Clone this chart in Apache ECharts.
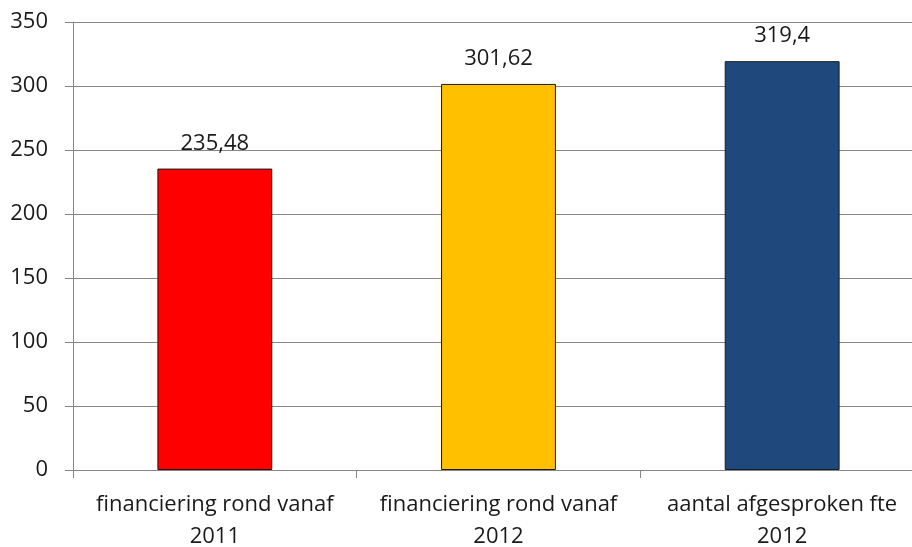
<!DOCTYPE html>
<html><head><meta charset="utf-8">
<script src="https://cdn.jsdelivr.net/npm/echarts@6/dist/echarts.min.js"></script>
<style>html,body{margin:0;padding:0;background:#fff;overflow:hidden}#c{width:912px;height:547px}</style>
</head><body><div id="c"></div>
<script>
const categories = ['financiering rond vanaf\n2011', 'financiering rond vanaf\n2012', 'aantal afgesproken fte\n2012'];
const values = [235.48, 301.62, 319.4];
const barColors = ['#FF0000', '#FFC000', '#1F497D'];
const yTicks = { min: 0, max: 350, interval: 50 };

const FONT = 'Open Sans';
const chart = echarts.init(document.getElementById('c'), null, { renderer: 'canvas' });
chart.setOption({
  animation: false,
  backgroundColor: '#fff',
  grid: { left: 73, right: -12, top: 22, bottom: 77, containLabel: false, outerBoundsMode: 'none' },
  xAxis: {
    type: 'category', data: categories,
    axisLine: { lineStyle: { color: '#868686', width: 1 } },
    axisTick: { show: true, length: 8, alignWithLabel: false, lineStyle: { color: '#868686' } },
    axisLabel: { color: '#1a1a1a', fontFamily: FONT, fontSize: 22, lineHeight: 32, margin: 19, interval: 0 }
  },
  yAxis: {
    type: 'value', min: yTicks.min, max: yTicks.max, interval: yTicks.interval,
    axisLine: { show: true, lineStyle: { color: '#868686', width: 1 } },
    axisTick: { show: true, length: 8, lineStyle: { color: '#868686' } },
    axisLabel: { color: '#1a1a1a', fontFamily: FONT, fontSize: 22, margin: 25 },
    splitLine: { show: true, lineStyle: { color: '#868686', width: 1 } }
  },
  series: [{
    type: 'bar',
    data: values.map((v, i) => ({ value: v, itemStyle: { color: barColors[i] } })),
    barWidth: '40.5%',
    itemStyle: { borderColor: '#1a1a1a', borderWidth: 1 },
    label: {
      show: true, position: 'top', distance: 14,
      color: '#1a1a1a', fontFamily: FONT, fontSize: 22,
      formatter: p => String(p.value).replace('.', ',')
    }
  }]
});
</script></body></html>
